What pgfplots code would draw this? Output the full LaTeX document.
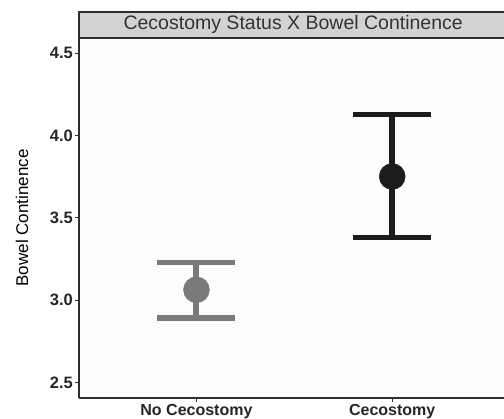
\documentclass[border=0pt]{standalone}
\usepackage{pgfplots}
\pgfplotsset{compat=1.18}
\usepackage{pgfplotstable}
\usepackage{fontspec}
\setmainfont{Liberation Sans}
\definecolor{cgrey}{HTML}{7A7A7A}
\definecolor{cblack}{HTML}{1C1C1C}
\definecolor{stripfill}{HTML}{D3D3D3}
\definecolor{axline}{HTML}{2E2E2E}
\definecolor{panelbg}{HTML}{FCFCFC}
\pgfplotstableread{
x y ep em
1 3.062 0.166 0.171
}\nocec
\pgfplotstableread{
x y ep em
2 3.750 0.377 0.370
}\cec
\begin{document}
\begin{tikzpicture}
\useasboundingbox (0,0) rectangle (504pt,419pt);
\begin{axis}[
  at={(79pt,21pt)}, anchor=south west,
  scale only axis, width=425pt, height=360pt,
  xmin=0.4, xmax=2.571, ymin=2.405, ymax=4.591,
  axis x line*=bottom, axis y line*=left,
  axis line style={draw=axline, line width=1.6pt, -},
  axis background/.style={fill=panelbg},
  xtick={1,2}, xticklabels={No Cecostomy, Cecostomy},
  ytick={2.5,3.0,3.5,4.0,4.5},
  y tick label style={/pgf/number format/fixed, /pgf/number format/fixed zerofill, /pgf/number format/precision=1, inner sep=2pt, font=\fontsize{16.5}{18}\selectfont\bfseries},
  /pgf/number format/assume math mode=true,
  tick align=outside, major tick length=4pt,
  tick style={draw=axline, line width=0.8pt},
  ticklabel style={text=black!85},
  x tick label style={inner sep=2pt, font=\fontsize{16}{18}\selectfont\bfseries},
  ylabel={\fontsize{17}{19}\selectfont Bowel Continence},
  ylabel style={at={(axis description cs:-0.134,0.5)}, anchor=center},
  clip=false,
]
\addplot+[only marks, mark=*, mark size=13pt, color=cgrey, mark options={fill=cgrey, draw=cgrey},
  error bars/.cd, y dir=both, y explicit,
  error bar style={line width=6pt, color=cgrey},
  error mark options={rotate=90, line width=5.5pt, mark size=39pt, color=cgrey}]
  table[x=x, y=y, y error plus=ep, y error minus=em] {\nocec};
\addplot+[only marks, mark=*, mark size=13pt, color=cblack, mark options={fill=cblack, draw=cblack},
  error bars/.cd, y dir=both, y explicit,
  error bar style={line width=6pt, color=cblack},
  error mark options={rotate=90, line width=5.5pt, mark size=39pt, color=cblack}]
  table[x=x, y=y, y error plus=ep, y error minus=em] {\cec};
\draw[fill=stripfill, draw=axline, line width=1.6pt] (rel axis cs:0,1) rectangle (rel axis cs:1.03,1.0722);
\node[font=\fontsize{19.5}{22}\selectfont, text=black!80, anchor=center] at (rel axis cs:0.504,1.0365) {Cecostomy Status X Bowel Continence};
\end{axis}
\end{tikzpicture}
\end{document}
